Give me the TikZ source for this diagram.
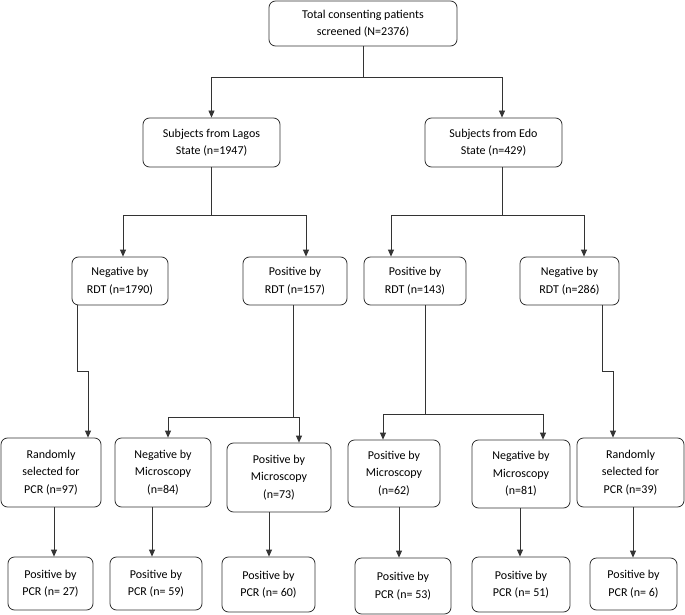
\documentclass[tikz,border=0pt]{standalone}
\usepackage{fontspec}
\setmainfont{Carlito}
\usetikzlibrary{arrows.meta}
\begin{document}
\begin{tikzpicture}[x=1pt,y=-1pt,
  box/.style={draw=black!80, line width=0.8pt, rounded corners=6.5pt, align=center, inner sep=0pt, font=\fontsize{12}{17.5}\selectfont},
  ln/.style={draw=black!80, line width=0.8pt},
  arr/.style={ln, -{Triangle[length=7pt,width=6pt]}}]
\useasboundingbox (0,0) rectangle (685,615);
% level 1
\node[box, minimum width=188, minimum height=45] (top) at (363,23.5) {Total consenting patients\\screened (N=2376)};
% level 2
\node[box, minimum width=137, minimum height=49] (lagos) at (211.5,142.5) {Subjects from Lagos\\State (n=1947)};
\node[box, minimum width=137, minimum height=49] (edo) at (493.5,142.5) {Subjects from Edo\\State (n=429)};
% level 3
\node[box, minimum width=96, minimum height=48] (negR1790) at (120,281) {Negative by\\RDT (n=1790)};
\node[box, minimum width=104, minimum height=48] (posR157) at (295,281) {Positive by\\RDT (n=157)};
\node[box, minimum width=102, minimum height=48] (posR143) at (415,281) {Positive by\\RDT (n=143)};
\node[box, minimum width=99, minimum height=48] (negR286) at (569.5,281) {Negative by\\RDT (n=286)};
% level 4
\node[box, minimum width=100, minimum height=69] (rand97) at (51,472.5) {Randomly\\selected for\\PCR (n=97)};
\node[box, minimum width=96, minimum height=69] (negM84) at (163,472.5) {Negative by\\Microscopy\\(n=84)};
\node[box, minimum width=104, minimum height=69] (posM73) at (279,477.5) {Positive by\\Microscopy\\(n=73)};
\node[box, minimum width=92, minimum height=67] (posM62) at (394,473.5) {Positive by\\Microscopy\\(n=62)};
\node[box, minimum width=98, minimum height=68] (negM81) at (521,474) {Negative by\\Microscopy\\(n=81)};
\node[box, minimum width=107, minimum height=69] (rand39) at (630.5,472.5) {Randomly\\selected for\\PCR (n=39)};
% level 5
\node[box, minimum width=85, minimum height=53] (p27) at (50.5,583.5) {Positive by\\PCR (n= 27)};
\node[box, minimum width=92, minimum height=53] (p59) at (156,583.5) {Positive by\\PCR (n= 59)};
\node[box, minimum width=93, minimum height=55] (p60) at (268.5,584.5) {Positive by\\PCR (n= 60)};
\node[box, minimum width=96, minimum height=56] (p53) at (403,586) {Positive by\\PCR (n= 53)};
\node[box, minimum width=98, minimum height=55] (p51) at (521,584.5) {Positive by\\PCR (n= 51)};
\node[box, minimum width=87, minimum height=52] (p6) at (633.5,584) {Positive by\\PCR (n= 6)};
% junctions
\coordinate (j0) at (363,77);
\coordinate (jL) at (211.5,215);
\coordinate (jE) at (502,215);
\coordinate (k1) at (88,371);
\coordinate (k2) at (613,371);
\coordinate (jM1) at (293,417);
\coordinate (jM2) at (425,414);
% connectors
\draw[ln] (top.south) -- (j0);
\draw[arr] (j0) -| (lagos.north);
\draw[arr] (j0) -| ([xshift=8.5]edo.north);
\draw[ln] (lagos.south) -- (jL);
\draw[arr] (jL) -| ([xshift=3]negR1790.north);
\draw[arr] (jL) -| ([xshift=11]posR157.north);
\draw[ln] ([xshift=8.5]edo.south) -- (jE);
\draw[arr] (jE) -| ([xshift=-24]posR143.north);
\draw[arr] (jE) -| ([xshift=14.5]negR286.north);
\draw[arr] ([xshift=-43]negR1790.south) |- (k1) -- ([xshift=37]rand97.north);
\draw[arr] ([xshift=32.5]negR286.south) |- (k2) -- ([xshift=-17.5]rand39.north);
\draw[ln] ([xshift=-2]posR157.south) -- (jM1);
\draw[arr] (jM1) -| ([xshift=5]negM84.north);
\draw[arr] (jM1) -| ([xshift=20]posM73.north);
\draw[ln] ([xshift=10]posR143.south) -- (jM2);
\draw[arr] (jM2) -| ([xshift=-11]posM62.north);
\draw[arr] (jM2) -| ([xshift=22]negM81.north);
\draw[arr] ([xshift=3]rand97.south) -- ([xshift=3.5]p27.north);
\draw[arr] ([xshift=-11]negM84.south) -- ([xshift=-4]p59.north);
\draw[arr] ([xshift=-10]posM73.south) -- ([xshift=0.5]p60.north);
\draw[arr] ([xshift=5]posM62.south) -- ([xshift=-4]p53.north);
\draw[arr] ([xshift=-1]negM81.south) -- ([xshift=-1]p51.north);
\draw[arr] ([xshift=2.5]rand39.south) -- ([xshift=-0.5]p6.north);
\end{tikzpicture}
\end{document}
